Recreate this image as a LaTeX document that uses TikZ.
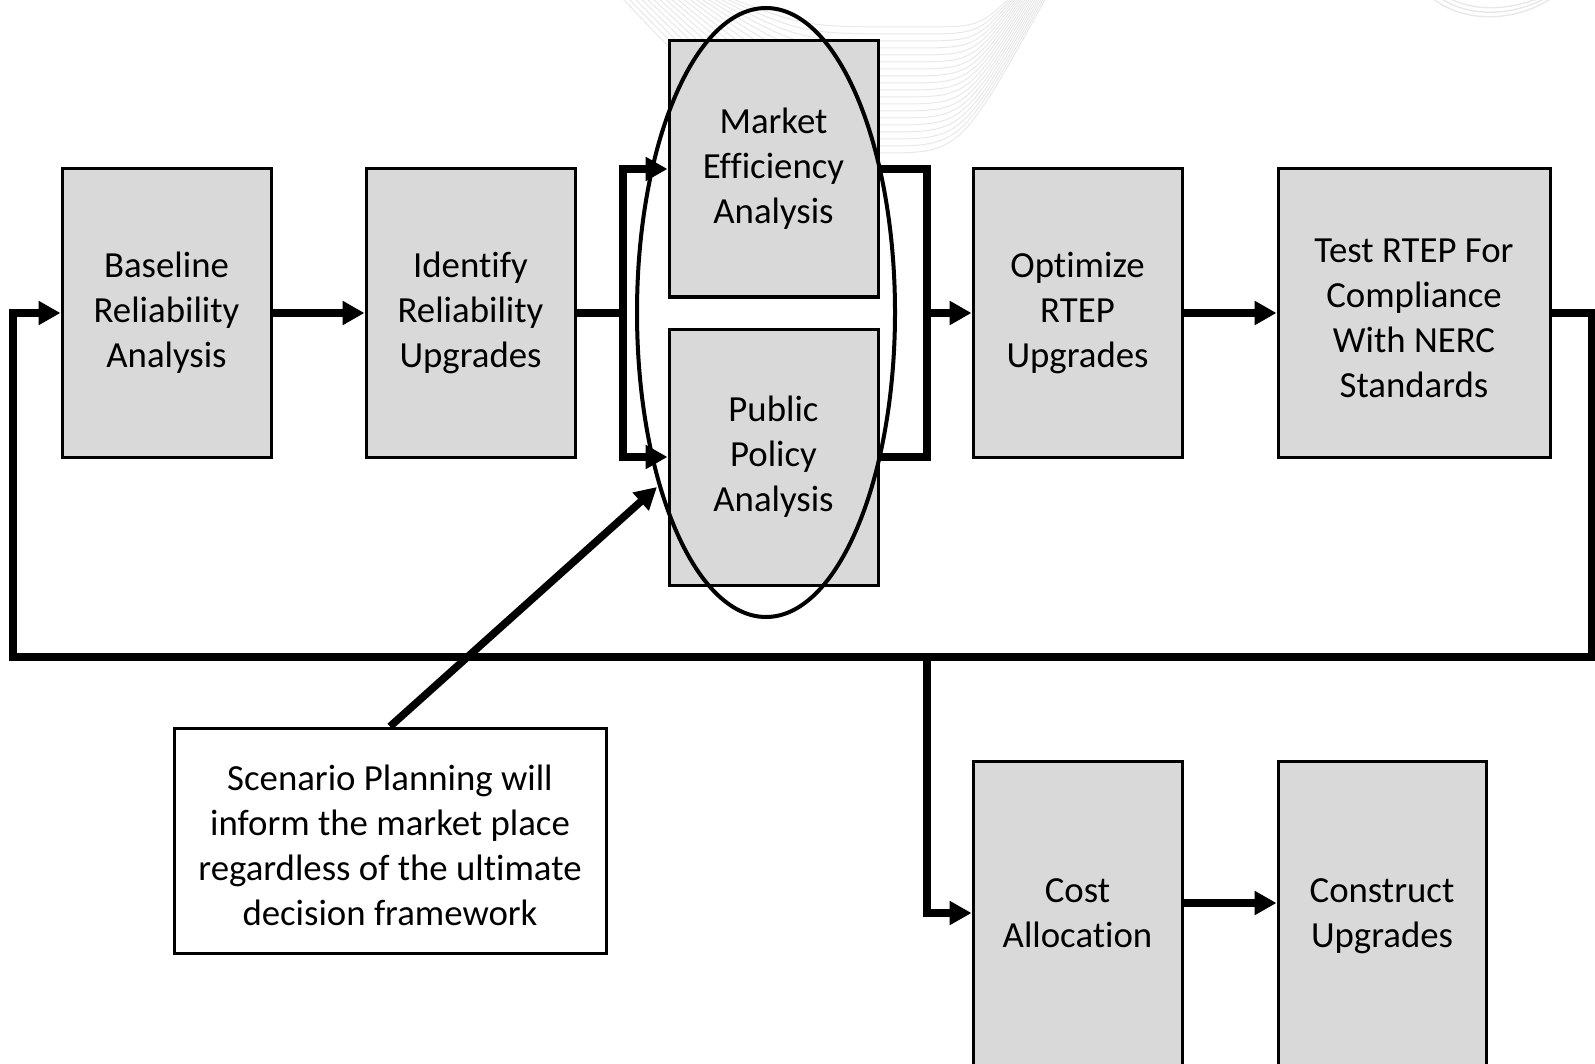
\documentclass[tikz,border=0pt]{standalone}
\usepackage{fontspec}
\setmainfont{Carlito}[Ligatures=NoCommon]
\usetikzlibrary{arrows.meta,shapes.geometric}

\definecolor{boxfill}{HTML}{D9D9D9}
\definecolor{swoosh}{HTML}{E8E8E8}

\tikzset{
  stepbox/.style={draw=black, fill=boxfill, line width=1.5pt, inner sep=0pt,
    align=center, font=\fontsize{18.4pt}{22.5pt}\selectfont},
  notebox/.style={draw=black, fill=white, line width=1.5pt, inner sep=0pt,
    align=center, font=\fontsize{18.4pt}{22.5pt}\selectfont},
  conn/.style={line width=3.8pt, line join=miter},
  arr/.style={conn, -{Triangle[length=11pt,width=11.5pt]}},
}
% strut that lowers a centred text block a little inside its box
\newcommand{\lowerby}[1]{\rule{0pt}{#1}}

\begin{document}
\begin{tikzpicture}[x=0.5pt, y=-0.5pt]
\useasboundingbox (0,0) rectangle (1595,1064);
\clip (0,0) rectangle (1595,1064);

% faint decorative swoosh along the top edge
\foreach \i in {0,...,18}{
  \draw[swoosh, line width=0.5pt]
    ({622+6*\i},-2) .. controls ({770+2*\i},{153-7*\i}) .. ({880+2*\i},{153-7*\i})
    .. controls ({960+\i},{153-7*\i}) .. ({1046-2*\i},-2);
}
\foreach \i in {0,1,2}{
  \draw[swoosh, line width=0.7pt]
    ({1432+8*\i},-2) .. controls ({1465+6*\i},{24-6*\i}) and ({1515-4*\i},{22-6*\i}) .. ({1552-6*\i},-2);
}

% process steps
\node[stepbox, minimum width=104.5pt, minimum height=144pt] (base) at (166.5,313)
  {Baseline\\Reliability\\Analysis};
\node[stepbox, minimum width=104.5pt, minimum height=144pt] (ident) at (470.5,313)
  {Identify\\Reliability\\Upgrades};
\node[stepbox, minimum width=104.5pt, minimum height=128pt] (market) at (773.5,169)
  {Market\\Efficiency\\Analysis};
\node[stepbox, minimum width=104.5pt, minimum height=128pt] (public) at (773.5,457)
  {Public\\Policy\\Analysis};
\node[stepbox, minimum width=104.5pt, minimum height=144pt] (opt) at (1077.5,313)
  {Optimize\\RTEP\\Upgrades};
\node[stepbox, minimum width=136pt, minimum height=144pt] (test) at (1414,313)
  {\lowerby{16.7pt}Test RTEP For\\Compliance\\With NERC\\Standards};
\node[stepbox, minimum width=104.5pt, minimum height=152pt] (cost) at (1077.5,913)
  {Cost\\Allocation};
\node[stepbox, minimum width=104pt, minimum height=152pt] (build) at (1382,913)
  {\lowerby{14.7pt}Construct\\Upgrades};
\node[notebox, minimum width=216pt, minimum height=112.5pt] (scen) at (390,840.5)
  {\lowerby{17.7pt}Scenario Planning will\\inform the market place\\regardless of the ultimate\\decision framework};

% junction points of the connectors
\coordinate (lsplit) at (623,313);
\coordinate (rjoin) at (927,313);
\coordinate (fbR) at (1592,657);
\coordinate (fbL) at (13,657);
\coordinate (fbB) at (927,657);
\coordinate (cclevel) at (0,903);
\coordinate (scentip) at (657,487);

% main flow
\draw[arr] (base.east) -- (ident.west);
\draw[conn] (ident.east) -- (lsplit);
\draw[arr] (lsplit) |- (market.west);
\draw[arr] (lsplit) |- (public.west);
\draw[conn] (market.east) -| (rjoin);
\draw[conn] (public.east) -| (rjoin);
\draw[arr] (rjoin) -- (opt.west);
\draw[arr] (opt.east) -- (test.west);

% feedback loop and branch to cost allocation
\draw[arr] (test.east) -| (fbR) -- (fbL) |- (base.west);
\draw[arr] (fbB) |- (cost.west);
\draw[arr] (cost.east |- cclevel) -- (build.west |- cclevel);

% scenario planning note
\draw[arr] (scen.north) -- (scentip);

% grouping ellipse around the two analyses
\node[ellipse, draw=black, line width=2pt, inner sep=0pt,
      minimum width=129pt, minimum height=304.5pt] (group) at (766,312.5) {};
\end{tikzpicture}
\end{document}
